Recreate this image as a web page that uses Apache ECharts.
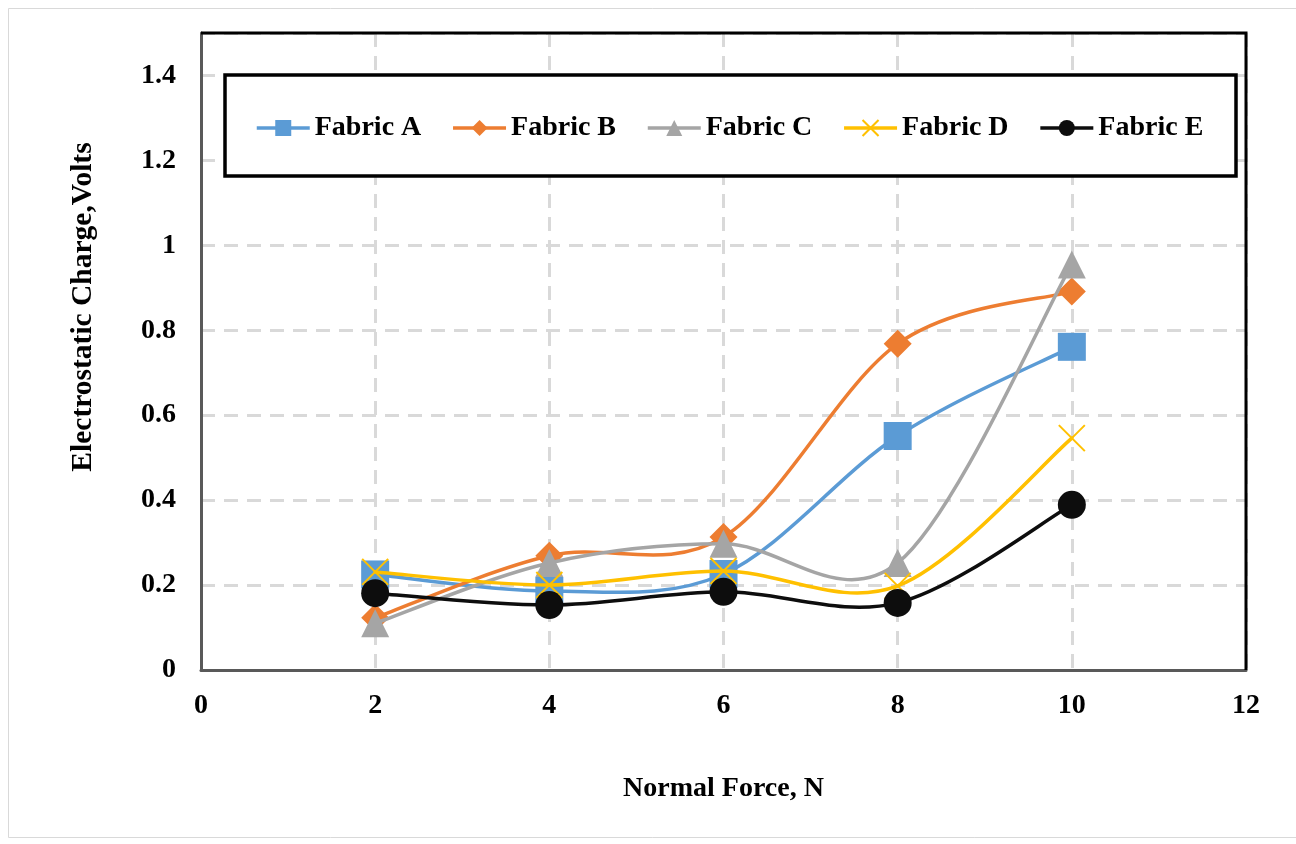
<!DOCTYPE html>
<html>
<head>
<meta charset="utf-8">
<script src="https://cdn.jsdelivr.net/npm/echarts@6/dist/echarts.min.js"></script>
<style>
html,body{margin:0;padding:0;background:#fff;}
#chart{width:1296px;height:844px;}
</style>
</head>
<body>
<div id="chart"></div>
<script>
var xValues = [2, 4, 6, 8, 10];
var seriesNames = ['Fabric A', 'Fabric B', 'Fabric C', 'Fabric D', 'Fabric E'];
var fabricA = [0.225, 0.186, 0.226, 0.551, 0.761];
var fabricB = [0.123, 0.269, 0.313, 0.768, 0.891];
var fabricC = [0.110, 0.252, 0.297, 0.252, 0.955];
var fabricD = [0.231, 0.200, 0.233, 0.198, 0.546];
var fabricE = [0.181, 0.153, 0.184, 0.158, 0.389];
var xTitle = 'Normal Force, N';
var yTitle = 'Electrostatic Charge,Volts';

var FONT = '"Liberation Serif", "Times New Roman", serif';
var colors = ['#5B9BD5', '#ED7D31', '#A5A5A5', '#FFC000', '#0D0D0D'];
var symbols = ['rect', 'diamond', 'triangle', 'path://M0,0L10,10M10,0L0,10', 'circle'];
var sizes = [28, 28, 28, 26, 28];
var allData = [fabricA, fabricB, fabricC, fabricD, fabricE];

function pairs(ys) {
  return xValues.map(function (x, i) { return [x, ys[i]]; });
}

// Smoothed curve (Catmull-Rom style bezier, like spreadsheet "smoothed line"),
// drawn through the library's coordinate system via api.coord.
function makeCurveRenderer(ys, color) {
  return function (params, api) {
    if (params.dataIndex !== 0) return null;
    var pts = xValues.map(function (x, i) { return api.coord([x, ys[i]]); });
    var children = [];
    var n = pts.length;
    for (var i = 0; i < n - 1; i++) {
      var p0 = pts[Math.max(i - 1, 0)], p1 = pts[i], p2 = pts[i + 1], p3 = pts[Math.min(i + 2, n - 1)];
      children.push({
        type: 'bezierCurve',
        shape: {
          x1: p1[0], y1: p1[1],
          cpx1: p1[0] + (p2[0] - p0[0]) / 6, cpy1: p1[1] + (p2[1] - p0[1]) / 6,
          cpx2: p2[0] - (p3[0] - p1[0]) / 6, cpy2: p2[1] - (p3[1] - p1[1]) / 6,
          x2: p2[0], y2: p2[1]
        },
        style: { stroke: color, lineWidth: 3.5, fill: null, lineCap: 'round' }
      });
    }
    return { type: 'group', children: children };
  };
}

var series = [];
allData.forEach(function (ys, i) {
  var isX = i === 3;
  series.push({
    name: 'curve ' + seriesNames[i],
    type: 'custom',
    coordinateSystem: 'cartesian2d',
    data: pairs(ys),
    renderItem: makeCurveRenderer(ys, colors[i]),
    silent: true,
    z: 2 + 2 * i
  });
  series.push({
    name: seriesNames[i],
    type: 'line',
    data: pairs(ys),
    symbol: symbols[i],
    symbolSize: sizes[i],
    showAllSymbol: true,
    lineStyle: { color: colors[i], width: 0, opacity: 0 },
    itemStyle: isX
      ? { color: colors[i], borderColor: colors[i], borderWidth: 2 }
      : { color: colors[i], borderWidth: 0 },
    emphasis: { disabled: true },
    z: 3 + 2 * i
  });
});

var legendData = seriesNames.map(function (nm, i) {
  return { name: nm, lineStyle: { color: colors[i], width: 3.5, opacity: 1, type: 'solid' } };
});

var chart = echarts.init(document.getElementById('chart'), null, { renderer: 'canvas' });
chart.setOption({
  animation: false,
  backgroundColor: '#ffffff',
  grid: { left: 201, right: 50, top: 33, bottom: 174, show: false },
  xAxis: {
    type: 'value', min: 0, max: 12, interval: 2,
    axisLine: { show: true, lineStyle: { color: '#595959', width: 3 } },
    axisTick: { show: false },
    axisLabel: { color: '#000', fontFamily: FONT, fontWeight: 'bold', fontSize: 28, margin: 22 },
    splitLine: { show: true, lineStyle: { color: '#d9d9d9', width: 3, type: [14, 9] } },
    name: xTitle, nameLocation: 'middle', nameGap: 105,
    nameTextStyle: { color: '#000', fontFamily: FONT, fontWeight: 'bold', fontSize: 28 }
  },
  yAxis: {
    type: 'value', min: 0, max: 1.5, interval: 0.2,
    axisLine: { show: true, lineStyle: { color: '#595959', width: 3 } },
    axisTick: { show: false },
    axisLabel: { color: '#000', fontFamily: FONT, fontWeight: 'bold', fontSize: 28, margin: 25,
      showMaxLabel: false,
      formatter: function (v) { return v > 1.45 ? '' : String(Math.round(v * 10) / 10); } },
    splitLine: { show: true, lineStyle: { color: '#d9d9d9', width: 3, type: [14, 9] } }
  },
  legend: {
    data: legendData,
    left: 255, top: 114,
    padding: 0,
    z: 30,
    itemWidth: 53, itemHeight: 20, itemGap: 30,
    textStyle: { color: '#000', fontFamily: FONT, fontWeight: 'bold', fontSize: 28 },
    backgroundColor: 'transparent'
  },
  graphic: [
    { type: 'rect', silent: true, z: 0, shape: { x: 8.5, y: 8.5, width: 1300, height: 829 },
      style: { fill: 'none', stroke: '#d9d9d9', lineWidth: 1 } },
    { type: 'polyline', silent: true, z: 50, shape: { points: [[201, 33], [1246, 33], [1246, 670]] },
      style: { fill: 'none', stroke: '#000000', lineWidth: 3 } },
    { type: 'rect', silent: true, z: 20, shape: { x: 225, y: 75, width: 1011, height: 101 },
      style: { fill: '#ffffff', stroke: '#000000', lineWidth: 3.5 } },
    { type: 'text', silent: true, z: 10, x: 83, y: 307, rotation: Math.PI / 2,
      style: { text: yTitle, fill: '#000', font: 'bold 29.5px ' + FONT, align: 'center', verticalAlign: 'middle' } }
  ],
  series: series
});
</script>
</body>
</html>
